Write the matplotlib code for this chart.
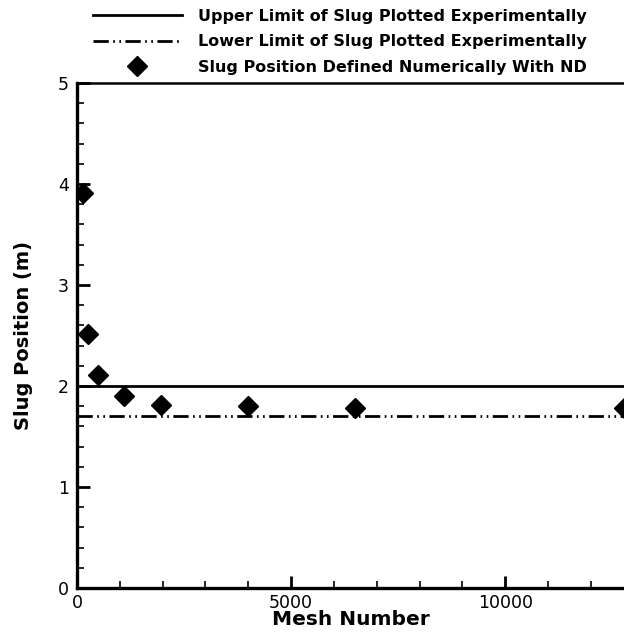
import matplotlib
matplotlib.use("Agg")
import matplotlib.pyplot as plt
from matplotlib.ticker import MultipleLocator
from matplotlib.lines import Line2D

mesh_number = [140, 260, 490, 1100, 1970, 4000, 6490, 12760]
slug_position = [3.91, 2.51, 2.11, 1.90, 1.81, 1.80, 1.78, 1.78]
upper_limit = 2.0
lower_limit = 1.7
legend_labels = ["Upper Limit of Slug Plotted Experimentally",
                 "Lower Limit of Slug Plotted Experimentally",
                 "Slug Position Defined Numerically With ND"]

plt.rcParams['font.family'] = ['DejaVu Sans']
plt.rcParams['lines.scale_dashes'] = False

fig = plt.figure(figsize=(6.24, 6.32), dpi=100)
ax = fig.add_axes([77/624, 1-588/632, 1-77/624 + 0.002, (588-83)/632])

ax.set_xlim(0, 12800)
ax.set_ylim(0, 5)

dash_style = (0, (11, 3.2, 1.2, 3.2, 1.2, 3.2))
ax.axhline(upper_limit, color='black', lw=2.0, solid_capstyle='butt')
ax.axhline(lower_limit, color='black', lw=2.0, linestyle=dash_style)
ax.plot(mesh_number, slug_position, linestyle='none', marker='D',
        markersize=10.5, color='black', clip_on=True, zorder=3)

for s in ['left', 'bottom']:
    ax.spines[s].set_linewidth(2.4)
ax.spines['top'].set_linewidth(1.8)
ax.spines['right'].set_visible(False)

ax.xaxis.set_major_locator(MultipleLocator(5000))
ax.xaxis.set_minor_locator(MultipleLocator(1000))
ax.yaxis.set_major_locator(MultipleLocator(1))
ax.yaxis.set_minor_locator(MultipleLocator(0.2))
ax.tick_params(which='major', direction='in', length=9, width=2, labelsize=12.5,
               top=False, right=False)
ax.tick_params(which='minor', direction='in', length=5, width=1.2,
               top=False, right=False)
ax.tick_params(axis='x', pad=4)
ax.tick_params(axis='y', pad=6)

ax.set_xlabel("Mesh Number", fontsize=14.5, fontweight='bold', labelpad=-1)
ax.set_ylabel("Slug Position (m)", fontsize=14, fontweight='bold', labelpad=18)

handles = [Line2D([], [], color='black', lw=2.0),
           Line2D([], [], color='black', lw=2.0, linestyle=dash_style),
           Line2D([], [], color='black', linestyle='none', marker='D', markersize=10.5)]
fig.legend(handles, legend_labels, loc='upper left',
           bbox_to_anchor=(93/624, 1 - 9/632), frameon=False,
           prop={'weight': 'bold', 'size': 11.5}, handlelength=5.57,
           handletextpad=1.0, labelspacing=0.65, borderaxespad=0, borderpad=0)

fig.savefig("out.png", dpi=100)
